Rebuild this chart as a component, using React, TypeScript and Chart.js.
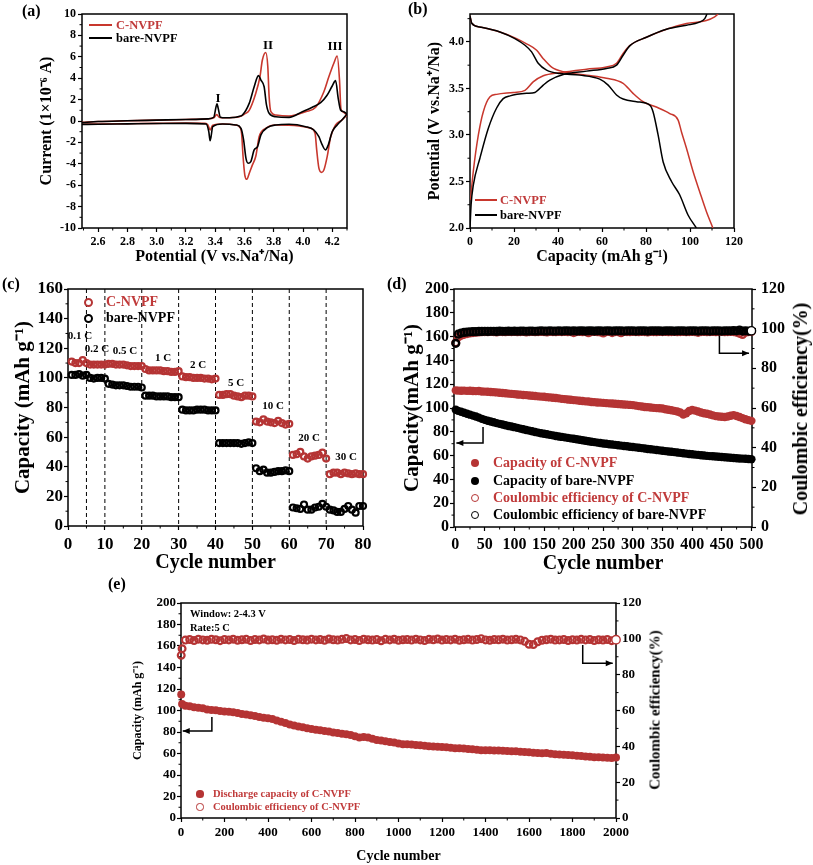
import React, { useEffect, useRef } from 'react';
import { Chart, registerables } from 'chart.js';

Chart.register(...registerables);

const FONT = "'Liberation Serif', 'Times New Roman', Times, serif";
const RED_LINE = '#c8372d';
const RED_MARK = '#b53434';
const RED_TEXT = '#c03a3a';

// ---------------- (a) CV curves ----------------
const cvRedUpV = [2.49, 2.6, 2.8, 3.0, 3.2, 3.35, 3.39, 3.41, 3.43, 3.47, 3.52, 3.564, 3.6, 3.632, 3.677, 3.705, 3.722, 3.745, 3.759, 3.768, 3.78, 3.814, 3.904, 4.018, 4.086, 4.142, 4.176, 4.21, 4.233, 4.249, 4.258, 4.27, 4.3];
const cvRedUpI = [-0.12, -0.05, 0.02, 0.08, 0.14, 0.2, 0.3, 0.6, 0.32, 0.3, 0.32, 0.4, 0.65, 1.0, 2.6, 4.1, 5.7, 6.4, 5.1, 2.3, 0.87, 0.56, 0.47, 0.87, 1.28, 2.74, 4.14, 5.4, 6.07, 3.8, 1.19, 0.87, 0.56];
const cvRedDownV = [2.49, 2.6, 2.8, 3.0, 3.2, 3.33, 3.35, 3.365, 3.383, 3.45, 3.54, 3.564, 3.58, 3.59, 3.602, 3.616, 3.632, 3.654, 3.677, 3.7, 3.745, 3.814, 3.973, 4.052, 4.082, 4.093, 4.108, 4.127, 4.142, 4.165, 4.188, 4.222, 4.265, 4.3];
const cvRedDownI = [-0.3, -0.28, -0.25, -0.22, -0.2, -0.22, -0.37, -0.84, -0.4, -0.28, -0.37, -0.53, -1.15, -3.3, -5.05, -5.45, -4.9, -4.1, -3.3, -1.47, -0.68, -0.37, -0.46, -0.68, -1.15, -2.7, -4.4, -4.8, -4.58, -3.3, -1.5, -0.37, 0.09, 0.56];
const cvBareUpV = [2.49, 2.6, 2.8, 3.0, 3.2, 3.35, 3.39, 3.405, 3.412, 3.42, 3.435, 3.47, 3.52, 3.56, 3.586, 3.632, 3.666, 3.695, 3.712, 3.734, 3.75, 3.768, 3.814, 3.904, 3.995, 4.063, 4.12, 4.165, 4.199, 4.222, 4.24, 4.256, 4.278, 4.3];
const cvBareUpI = [-0.15, -0.05, 0.02, 0.08, 0.14, 0.2, 0.35, 1.3, 1.6, 1.2, 0.35, 0.3, 0.32, 0.42, 0.56, 1.65, 3.2, 4.24, 3.83, 3.2, 1.5, 0.72, 0.4, 0.34, 0.87, 1.28, 1.71, 2.43, 3.27, 3.77, 2.12, 1.03, 0.87, 0.65];
const cvBareDownV = [2.49, 2.6, 2.8, 3.0, 3.2, 3.338, 3.356, 3.365, 3.371, 3.383, 3.45, 3.54, 3.576, 3.594, 3.61, 3.625, 3.643, 3.666, 3.689, 3.712, 3.759, 3.814, 3.904, 4.018, 4.074, 4.108, 4.131, 4.153, 4.172, 4.199, 4.233, 4.27, 4.3];
const cvBareDownI = [-0.32, -0.3, -0.27, -0.24, -0.22, -0.28, -1.0, -1.84, -1.5, -0.53, -0.28, -0.37, -0.68, -1.78, -3.5, -3.95, -3.8, -2.7, -2.4, -1.3, -0.59, -0.37, -0.31, -0.53, -0.84, -1.47, -2.24, -2.7, -2.24, -1.0, -0.37, 0.16, 0.65];

// ---------------- (b) charge / discharge ----------------
const gcRedChargeCap = [0.2, 1.5, 3.8, 6.05, 9.1, 12.1, 19.7, 25, 28.7, 33.3, 40.9, 53, 62, 66.6, 69.6, 72.6, 80.2, 89.3, 98.4, 107.4, 111.2, 112.8];
const gcRedChargeV = [2.3, 2.61, 3.0, 3.25, 3.41, 3.436, 3.457, 3.48, 3.57, 3.636, 3.67, 3.707, 3.73, 3.77, 3.876, 3.96, 4.05, 4.136, 4.197, 4.23, 4.27, 4.3];
const gcBareChargeCap = [0, 0.5, 1.5, 4.5, 8.3, 12.1, 15.1, 18.2, 25.7, 29.5, 33.3, 36.3, 42.4, 53, 62, 66.6, 69.6, 72.6, 80.2, 89.3, 98.4, 104, 106.7, 107.7];
const gcBareChargeV = [2.0, 2.25, 2.46, 2.75, 3.07, 3.29, 3.39, 3.42, 3.447, 3.457, 3.536, 3.59, 3.65, 3.686, 3.715, 3.75, 3.857, 3.957, 4.05, 4.136, 4.18, 4.21, 4.25, 4.3];
const gcRedDisCap = [0, 0.8, 4.5, 13.6, 21.2, 25.7, 30.3, 33.3, 37.1, 42.4, 53, 62, 69.6, 74.1, 78.7, 84.7, 90.8, 94.6, 96.1, 98.4, 101.4, 104.4, 107.4, 110.4];
const gcRedDisV = [4.28, 4.2, 4.16, 4.107, 4.036, 3.98, 3.91, 3.82, 3.73, 3.68, 3.643, 3.61, 3.555, 3.447, 3.357, 3.3, 3.23, 3.16, 3.035, 2.857, 2.607, 2.39, 2.18, 2.0];
const gcBareDisCap = [0, 0.8, 4.5, 13.6, 20.4, 25, 28, 31, 34.8, 40.9, 49.9, 59, 62.8, 66.6, 69.6, 75.7, 81.7, 83.2, 85.5, 87.8, 91.6, 95.3, 99.1, 102.9];
const gcBareDisV = [4.28, 4.2, 4.16, 4.107, 4.036, 3.964, 3.893, 3.77, 3.697, 3.66, 3.643, 3.6, 3.536, 3.43, 3.386, 3.357, 3.32, 3.25, 3.0, 2.71, 2.5, 2.357, 2.14, 2.0];

// ---------------- (c) rate capability ----------------
const rateRed = [111, 110, 110, 112, 110, 109, 109, 109, 109, 109,
  109.5, 109.5, 109, 109, 109, 108.5, 108, 108, 108, 108,
  106, 105, 105, 105, 105, 104.5, 104.5, 104, 104, 104.5,
  101, 100.5, 100.5, 100, 100, 100, 99.5, 99.5, 99, 99.5,
  88.5, 88.5, 89, 89, 88, 87.5, 87, 88, 88, 87.5,
  70.5, 70, 72, 70.5, 70, 69.5, 71, 69.5, 68.5, 69,
  48, 48.5, 50, 47, 45.5, 47, 47.5, 48, 49.5, 45.5,
  35, 36, 36, 35, 36, 35.5, 35, 35.5, 35, 35];
const rateBare = [102, 102, 102.5, 101.5, 102, 100, 99.5, 100, 100, 99.5,
  96, 95.5, 95, 95, 95, 94.5, 94, 94, 94, 93.5,
  88, 88, 88, 87.5, 87.5, 87.5, 87.5, 87, 87, 87,
  78.5, 78, 78, 78, 78.5, 78.5, 78.5, 78, 78, 78,
  56, 56, 56, 56, 56, 56, 55.5, 56, 56.5, 56,
  39, 37, 38, 36, 36, 36.5, 37, 37, 37.5, 37,
  12.5, 12, 11.5, 14.5, 11, 11, 12.5, 13, 15, 13,
  11, 10.5, 9.5, 9.5, 11.5, 13.5, 11, 9, 13.5, 13.5];
const rateBoundaries = [5, 10, 20, 30, 40, 50, 60, 70];
const rateLabels = [
  { t: '0.1 C', x: 80, y: 335 }, { t: '0.2 C', x: 97, y: 348 }, { t: '0.5 C', x: 125, y: 350 },
  { t: '1 C', x: 163, y: 357 }, { t: '2 C', x: 198, y: 364 }, { t: '5 C', x: 236, y: 382 },
  { t: '10 C', x: 273, y: 405 }, { t: '20 C', x: 309, y: 437 }, { t: '30 C', x: 346, y: 456 },
];

// ---------------- (d) 500 cycles at 5 C (every 5 cycles) ----------------
const dCycleStep = 5;
const dCapRed = [114.8, 114.6, 114.5, 114.6, 114.4, 114.5, 114.3, 114.2, 114.3, 113.9,
  113.8, 113.6, 113.5, 113.3, 113.1, 112.8, 112.6, 112.4, 112.1, 111.9,
  111.7, 111.4, 111.2, 110.9, 110.8, 110.5, 110.3, 110.1, 109.8, 109.6,
  109.4, 109.1, 108.9, 108.6, 108.4, 108.1, 107.7, 107.5, 107.2, 106.9,
  106.6, 106.4, 106.1, 105.9, 105.6, 105.4, 105.1, 104.9, 104.6, 104.5,
  104.3, 104.1, 103.9, 103.8, 103.6, 103.4, 103.2, 103.0, 102.8, 102.6,
  102.4, 102.0, 101.6, 101.2, 100.9, 100.7, 100.4, 100.1, 99.9, 99.8,
  99.6, 99.0, 98.5, 98.1, 97.6, 97.0, 96.2, 94.6, 95.5, 97.5,
  98.3, 97.8, 97.0, 96.2, 95.6, 95.2, 94.5, 93.8, 93.2, 92.9,
  92.6, 92.4, 92.8, 93.5, 94.0, 93.3, 92.5, 91.5, 90.6, 89.8,
  89.2];
const dCapBare = [98.5, 97.6, 96.8, 96.0, 95.2, 94.4, 93.6, 92.8, 91.9, 90.9,
  90.0, 89.3, 88.6, 88.0, 87.3, 86.7, 86.1, 85.5, 84.9, 84.4,
  83.9, 83.3, 82.7, 82.1, 81.5, 81.0, 80.4, 79.8, 79.3, 78.8,
  78.4, 77.9, 77.4, 77.0, 76.5, 76.1, 75.7, 75.3, 74.9, 74.5,
  74.1, 73.7, 73.3, 72.9, 72.5, 72.1, 71.7, 71.3, 70.9, 70.6,
  70.2, 69.9, 69.6, 69.3, 69.0, 68.7, 68.4, 68.1, 67.8, 67.5,
  67.2, 66.9, 66.6, 66.3, 66.0, 65.6, 65.3, 65.0, 64.7, 64.4,
  64.1, 63.8, 63.5, 63.2, 62.9, 62.6, 62.3, 62.0, 61.7, 61.4,
  61.1, 60.8, 60.6, 60.3, 60.1, 59.8, 59.6, 59.4, 59.2, 59.0,
  58.8, 58.6, 58.4, 58.2, 58.0, 57.8, 57.6, 57.5, 57.3, 57.2,
  57.0];
const dCeRed = [92.9, 95.8, 96.6, 97.1, 97.5, 97.8, 98.0, 98.2, 98.3, 98.4,
  98.5, 98.4, 98.6, 98.5, 98.3, 98.6, 98.5, 98.4, 98.6, 98.5,
  98.6, 98.4, 98.5, 98.6, 98.3, 98.5, 98.6, 98.4, 98.5, 98.6,
  98.5, 98.3, 98.6, 98.5, 98.4, 98.6, 98.5, 98.6, 98.4, 98.5,
  98.0, 98.5, 98.6, 98.4, 98.5, 97.9, 98.5, 98.6, 98.4, 98.3,
  97.8, 98.5, 98.6, 98.0, 98.5, 98.4, 97.9, 98.6, 98.5, 98.4,
  98.6, 98.5, 98.4, 98.6, 98.5, 98.3, 98.6, 98.5, 98.4, 98.6,
  98.5, 98.6, 98.4, 98.5, 98.6, 98.4, 98.5, 98.6, 98.4, 98.5,
  98.6, 98.4, 98.1, 98.5, 98.6, 98.4, 98.5, 98.6, 98.4, 98.5,
  98.6, 98.4, 98.5, 98.6, 98.5, 98.2, 97.6, 97.0, 98.2, 98.5,
  98.6];
const dCeBare = [92.6, 97.2, 97.8, 98.1, 98.3, 98.4, 98.5, 98.5, 98.6, 98.6,
  98.7, 98.6, 98.7, 98.7, 98.6, 98.8, 98.7, 98.7, 98.8, 98.7,
  98.8, 98.7, 98.8, 98.8, 98.7, 98.8, 98.8, 98.7, 98.8, 98.9,
  98.8, 98.8, 98.9, 98.8, 98.8, 98.9, 98.8, 98.9, 98.9, 98.8,
  98.9, 98.8, 98.9, 98.9, 98.8, 98.9, 98.9, 98.8, 98.9, 98.9,
  98.8, 98.9, 98.9, 98.8, 98.9, 98.9, 98.9, 98.8, 98.9, 98.9,
  98.9, 98.8, 98.9, 98.9, 98.9, 98.8, 98.9, 98.9, 98.9, 98.9,
  98.8, 98.9, 98.9, 98.9, 98.8, 98.9, 98.9, 98.9, 98.8, 98.9,
  98.9, 98.9, 98.8, 98.9, 98.9, 98.9, 98.8, 98.9, 98.9, 98.9,
  98.8, 98.9, 98.9, 98.9, 99.0, 98.9, 99.3, 98.8, 98.9, 98.8,
  98.9];

// ---------------- (e) 2000 cycles ----------------
const eCyclesHead = [1, 5];
const eCycleStep = 20;
const eCap = [115, 106,
  104.5, 104.0, 103.0, 102.5, 102.0, 101.0, 100.5, 100.3, 99.6, 99.0,
  98.8, 98.4, 97.6, 96.8, 96.2, 95.6, 94.8, 94.0, 93.3, 92.7,
  92.0, 90.8, 89.6, 88.3, 87.0, 86.0, 85.2, 84.4, 83.6, 82.8,
  82.2, 81.6, 81.0, 80.4, 79.6, 79.0, 78.4, 78.0, 77.2, 76.0,
  75.0, 75.4, 74.8, 73.8, 72.6, 72.0, 71.4, 70.8, 70.2, 69.4,
  68.7, 68.6, 68.4, 68.0, 67.6, 67.2, 66.8, 66.5, 66.3, 66.1,
  65.7, 65.3, 65.0, 64.8, 64.6, 64.3, 64.0, 63.5, 63.1, 63.0,
  63.0, 62.9, 62.7, 62.5, 62.4, 62.2, 62.0, 61.6, 61.4, 61.2,
  60.8, 60.4, 60.2, 60.4, 59.8, 59.3, 59.0, 58.8, 58.6, 58.4,
  58.0, 57.6, 57.2, 56.9, 56.6, 56.4, 56.2, 56.0, 55.9, 56.2];
const eCe = [90.8, 94.5,
  99.3, 99.6, 99.1, 99.8, 99.4, 99.2, 99.7, 99.5, 99.0, 99.6,
  99.4, 99.8, 99.2, 99.5, 99.7, 99.1, 99.6, 99.4, 99.9, 99.3,
  99.5, 99.2, 99.8, 99.4, 99.6, 99.1, 99.7, 99.5, 99.3, 99.8,
  99.4, 99.6, 99.2, 99.9, 99.5, 99.3, 99.7, 100.2, 99.4, 99.6,
  99.1, 99.8, 99.5, 99.3, 99.6, 98.9, 99.7, 99.4, 99.8, 99.2,
  99.5, 99.6, 99.3, 99.8, 99.4, 99.1, 99.7, 99.5, 99.9, 99.3,
  99.6, 99.4, 99.8, 99.2, 99.5, 99.7, 99.3, 99.6, 100.1, 99.4,
  99.2, 99.6, 99.5, 99.8, 99.3, 99.5, 99.7, 99.4, 98.6, 97.0,
  96.8, 98.4, 99.2, 99.5, 99.8, 99.3, 99.4, 99.6, 99.1, 99.5,
  99.3, 99.7, 99.4, 99.6, 99.1, 99.5, 99.3, 99.6, 99.0, 99.5];

// ---------------- helpers ----------------
const pts = (xs: number[], ys: number[]) => xs.map((x, i) => ({ x, y: ys[i] }));
const dCycles = dCapRed.map((_, i) => (i === 0 ? 1 : i * dCycleStep));
const eCycles = [...eCyclesHead, ...eCap.slice(eCyclesHead.length).map((_, i) => (i + 1) * eCycleStep)];
const rateCycles = rateRed.map((_, i) => i + 1);

function axis(o: any) {
  return {
    type: 'linear',
    position: o.pos,
    min: o.min,
    max: o.max,
    afterFit: (s: any) => {
      if (o.pos === 'bottom') s.height = o.size;
      else s.width = o.size;
    },
    border: { display: false },
    grid: { display: true, drawOnChartArea: false, drawTicks: true, tickLength: o.tl ?? 4, tickWidth: 1.2, tickColor: '#000' },
    ticks: {
      stepSize: o.step,
      includeBounds: false,
      autoSkip: false,
      maxRotation: 0,
      minRotation: 0,
      padding: o.pad ?? 3,
      color: '#000',
      font: { family: FONT, size: o.font, weight: 'bold' },
      callback: (v: any) => (o.fmt ? o.fmt(Number(v)) : String(Math.round(Number(v)))),
    },
    title: o.title
      ? { display: true, text: o.title, color: '#000', font: { family: FONT, size: o.titleSize, weight: 'bold' }, padding: o.titlePad ?? { top: 4, bottom: 4 } }
      : { display: false },
  };
}

const framePlugin = {
  id: 'frame',
  beforeDatasetsDraw(chart: any) {
    const { ctx, chartArea: a } = chart;
    ctx.save();
    ctx.strokeStyle = '#000';
    ctx.lineWidth = 1.5;
    ctx.strokeRect(a.left, a.top, a.right - a.left, a.bottom - a.top);
    ctx.restore();
  },
};

const minorPlugin = {
  id: 'minor',
  beforeDatasetsDraw(chart: any, _args: any, opts: any) {
    const steps = (opts && opts.steps) || {};
    const len = (opts && opts.len) || 2.5;
    const { ctx, chartArea: a } = chart;
    ctx.save();
    ctx.strokeStyle = '#000';
    ctx.lineWidth = 1;
    Object.keys(steps).forEach((id) => {
      const s = chart.scales[id];
      if (!s) return;
      const step = steps[id];
      const majors = s.ticks.map((t: any) => t.value);
      const k0 = Math.ceil(s.min / step - 1e-6);
      const k1 = Math.floor(s.max / step + 1e-6);
      for (let k = k0; k <= k1; k++) {
        const v = k * step;
        if (majors.some((m: number) => Math.abs(m - v) < step * 0.01)) continue;
        const p = s.getPixelForValue(v);
        ctx.beginPath();
        if (s.axis === 'x') {
          ctx.moveTo(p, a.bottom);
          ctx.lineTo(p, a.bottom + len);
        } else if (s.position === 'left') {
          ctx.moveTo(a.left, p);
          ctx.lineTo(a.left - len, p);
        } else {
          ctx.moveTo(a.right, p);
          ctx.lineTo(a.right + len, p);
        }
        ctx.stroke();
      }
    });
    ctx.restore();
  },
};

const vlinePlugin = {
  id: 'vlines',
  beforeDatasetsDraw(chart: any, _args: any, opts: any) {
    const vals = (opts && opts.values) || [];
    if (!vals.length) return;
    const { ctx, chartArea: a } = chart;
    const xs = chart.scales.x;
    ctx.save();
    ctx.strokeStyle = '#000';
    ctx.lineWidth = 1;
    ctx.setLineDash([4, 3]);
    vals.forEach((v: number) => {
      const p = xs.getPixelForValue(v);
      ctx.beginPath();
      ctx.moveTo(p, a.top);
      ctx.lineTo(p, a.bottom);
      ctx.stroke();
    });
    ctx.restore();
  },
};

const arrowPlugin = {
  id: 'arrows',
  afterDatasetsDraw(chart: any, _args: any, opts: any) {
    const list = (opts && opts.list) || [];
    const { ctx } = chart;
    ctx.save();
    ctx.strokeStyle = '#000';
    ctx.fillStyle = '#000';
    ctx.lineWidth = 1.5;
    list.forEach((ar: any) => {
      const xs = chart.scales.x;
      const ys = chart.scales[ar.axis || 'y'];
      const p = ar.pts.map((q: number[]) => [xs.getPixelForValue(q[0]), ys.getPixelForValue(q[1])]);
      ctx.beginPath();
      ctx.moveTo(p[0][0], p[0][1]);
      for (let i = 1; i < p.length; i++) ctx.lineTo(p[i][0], p[i][1]);
      ctx.stroke();
      const [x1, y1] = p[p.length - 2];
      const [x2, y2] = p[p.length - 1];
      const ang = Math.atan2(y2 - y1, x2 - x1);
      const L = 7, W = 3;
      ctx.beginPath();
      ctx.moveTo(x2, y2);
      ctx.lineTo(x2 - L * Math.cos(ang) + W * Math.sin(ang), y2 - L * Math.sin(ang) - W * Math.cos(ang));
      ctx.lineTo(x2 - L * Math.cos(ang) - W * Math.sin(ang), y2 - L * Math.sin(ang) + W * Math.cos(ang));
      ctx.closePath();
      ctx.fill();
    });
    ctx.restore();
  },
};

const PLUGINS = [framePlugin, minorPlugin, vlinePlugin, arrowPlugin];

function baseOptions(padding: any, scales: any, extra: any) {
  return {
    responsive: false,
    maintainAspectRatio: false,
    animation: false,
    events: [],
    layout: { padding },
    plugins: { legend: { display: false }, tooltip: { enabled: false }, ...extra },
    scales,
  };
}

const lineDs = (data: any, color: string, order: number, width = 1.6) => ({
  type: 'line',
  data,
  borderColor: color,
  borderWidth: width,
  pointRadius: 0,
  fill: false,
  cubicInterpolationMode: 'monotone',
  order,
});

// ---------------- chart configs ----------------
const configA = () => ({
  type: 'line',
  data: {
    datasets: [
      lineDs(pts(cvBareUpV, cvBareUpI), '#000', 0),
      lineDs(pts(cvBareDownV, cvBareDownI), '#000', 0),
      lineDs(pts(cvRedUpV, cvRedUpI), RED_LINE, 1),
      lineDs(pts(cvRedDownV, cvRedDownI), RED_LINE, 1),
    ],
  },
  options: baseOptions(
    { left: 33, top: 14, right: 53, bottom: 0 },
    {
      x: axis({ pos: 'bottom', min: 2.49, max: 4.3, step: 0.2, size: 40, font: 12, fmt: (v: number) => v.toFixed(1), title: 'Potential (V vs.Na\u207A/Na)', titleSize: 16, titlePad: { top: 2, bottom: 2 } }),
      y: axis({ pos: 'left', min: -10, max: 10, step: 2, size: 49, font: 12, pad: 2, title: 'Current (1\u00D710\u207B\u2076 A)', titleSize: 16 }),
    },
    { minor: { steps: { x: 0.1, y: 1 }, len: 2.5 } },
  ),
});

const configB = () => ({
  type: 'line',
  data: {
    datasets: [
      lineDs(pts(gcBareChargeCap, gcBareChargeV), '#000', 0, 1.5),
      lineDs(pts(gcBareDisCap, gcBareDisV), '#000', 0, 1.5),
      lineDs(pts(gcRedChargeCap, gcRedChargeV), RED_LINE, 1, 1.5),
      lineDs(pts(gcRedDisCap, gcRedDisV), RED_LINE, 1, 1.5),
    ],
  },
  options: baseOptions(
    { left: 21, top: 14, right: 79, bottom: 0 },
    {
      x: axis({ pos: 'bottom', min: 0, max: 120, step: 20, size: 40, font: 12, title: 'Capacity (mAh g\u207B\u00B9)', titleSize: 16, titlePad: { top: 2, bottom: 2 } }),
      y: axis({ pos: 'left', min: 2.0, max: 4.3, step: 0.5, size: 49, font: 12, pad: 2, fmt: (v: number) => v.toFixed(1), title: 'Potential (V vs.Na\u207A/Na)', titleSize: 16 }),
    },
    { minor: { steps: { x: 10, y: 0.25 }, len: 2.5 } },
  ),
});

// open circles; the last point of a series is white-filled (as in the source figure)
const ringDs = (data: any, color: string, order: number, r = 3, bw = 2, whiteLast = false) => ({
  type: 'scatter',
  data,
  borderColor: color,
  backgroundColor: (ctx: any) => (whiteLast && ctx.dataIndex === data.length - 1 ? '#fff' : 'rgba(255,255,255,0)'),
  borderWidth: (ctx: any) => (whiteLast && ctx.dataIndex === data.length - 1 ? 1.4 : bw),
  pointRadius: (ctx: any) => (whiteLast && ctx.dataIndex === data.length - 1 ? 4.2 : r),
  showLine: false,
  clip: false,
  order,
});
const dotDs = (data: any, color: string, order: number, r = 3.6, axisId = 'y') => ({
  type: 'scatter',
  data,
  borderColor: color,
  backgroundColor: color,
  borderWidth: 0,
  pointRadius: r,
  showLine: false,
  clip: false,
  yAxisID: axisId,
  order,
});

const configC = () => ({
  type: 'scatter',
  data: {
    datasets: [
      ringDs(pts(rateCycles, rateBare), '#000', 1, 3, 2.2),
      ringDs(pts(rateCycles, rateRed), RED_MARK, 0, 3, 2.2),
    ],
  },
  options: baseOptions(
    { left: 8, top: 19, right: 37, bottom: 1 },
    {
      x: axis({ pos: 'bottom', min: 0, max: 80, step: 10, size: 53, font: 17, pad: 4, title: 'Cycle number', titleSize: 20 }),
      y: axis({ pos: 'left', min: 0, max: 160, step: 20, size: 60, font: 17, pad: 1, title: 'Capacity (mAh g\u207B\u00B9)', titleSize: 21, titlePad: { top: 3, bottom: 3 } }),
    },
    { minor: { steps: { x: 5, y: 10 }, len: 2.5 }, vlines: { values: rateBoundaries } },
  ),
});

const configD = () => ({
  type: 'scatter',
  data: {
    datasets: [
      { ...ringDs(pts(dCycles, dCeBare), '#000', 0, 3.4, 2.4, true), yAxisID: 'y2' },
      { ...ringDs(pts(dCycles, dCeRed), RED_MARK, 1, 3.4, 2.2), yAxisID: 'y2' },
      dotDs(pts(dCycles, dCapRed), RED_MARK, 2, 4.2),
      dotDs(pts(dCycles, dCapBare), '#000', 2, 4.2),
    ],
  },
  options: baseOptions(
    { left: 8, top: 19, right: 0, bottom: 0 },
    {
      x: axis({ pos: 'bottom', min: -2, max: 501, step: 50, size: 53, font: 16, pad: 4, title: 'Cycle number', titleSize: 20 }),
      y: axis({ pos: 'left', min: 0, max: 200, step: 20, size: 56, font: 16, pad: 1, title: 'Capacity(mAh g\u207B\u00B9)', titleSize: 21, titlePad: { top: 2, bottom: 2 } }),
      y2: axis({ pos: 'right', min: 0, max: 120, step: 20, size: 61, font: 16, pad: 5 }),
    },
    {
      minor: { steps: { x: 25, y: 10, y2: 10 }, len: 2.5 },
      arrows: {
        list: [
          { axis: 'y', pts: [[47, 84], [47, 70.5], [2, 70.5]] },
          { axis: 'y', pts: [[446, 161], [446, 146], [496, 146]] },
        ],
      },
    },
  ),
});

const configE = () => ({
  type: 'scatter',
  data: {
    datasets: [
      { ...ringDs(pts(eCycles, eCe), RED_MARK, 0, 3.4, 2.2, true), yAxisID: 'y2' },
      dotDs(pts(eCycles, eCap), RED_MARK, 1, 4),
    ],
  },
  options: baseOptions(
    { left: 27, top: 18, right: 157, bottom: 0 },
    {
      x: axis({ pos: 'bottom', min: 0, max: 2000, step: 200, size: 47, font: 13, pad: 3, title: 'Cycle number', titleSize: 14, titlePad: { top: 2, bottom: 0 } }),
      y: axis({ pos: 'left', min: 0, max: 200, step: 20, size: 54, font: 13, pad: 1, title: 'Capacity (mAh g\u207B\u00B9)', titleSize: 12 }),
      y2: axis({ pos: 'right', min: 0, max: 120, step: 20, size: 40, font: 13, pad: 2 }),
    },
    {
      minor: { steps: { x: 100, y: 10, y2: 10 }, len: 2.5 },
      arrows: {
        list: [
          { axis: 'y', pts: [[142, 94], [142, 81], [8, 81]] },
          { axis: 'y', pts: [[1847, 161], [1847, 144], [1985, 144]] },
        ],
      },
    },
  ),
});

// ---------------- components ----------------
function ChartBox({ x, y, w, h, make }: any) {
  const ref = useRef<HTMLCanvasElement>(null);
  useEffect(() => {
    const cfg: any = make();
    cfg.plugins = PLUGINS;
    const chart = new Chart(ref.current as HTMLCanvasElement, cfg);
    return () => chart.destroy();
  }, []);
  return <canvas ref={ref} width={w} height={h} style={{ position: 'absolute', left: x, top: y, width: w, height: h }} />;
}

function T({ x, y, s, c = '#000', center = false, rot = false, children }: any) {
  const tr = rot ? 'translate(-50%, -50%) rotate(-90deg)' : center ? 'translate(-50%, -50%)' : 'translate(0, -50%)';
  return (
    <div style={{ position: 'absolute', left: x, top: y, transform: tr, fontFamily: FONT, fontWeight: 'bold', fontSize: s, color: c, whiteSpace: 'nowrap', lineHeight: 1 }}>
      {children}
    </div>
  );
}

function LineKey({ x, y, w, c }: any) {
  return <div style={{ position: 'absolute', left: x, top: y - 1, width: w, height: 2, background: c }} />;
}

function Dot({ x, y, r, c, hollow = false, bw = 1.5 }: any) {
  return (
    <div
      style={{
        position: 'absolute',
        left: x - r,
        top: y - r,
        width: r * 2,
        height: r * 2,
        borderRadius: '50%',
        boxSizing: 'border-box',
        background: hollow ? '#fff' : c,
        border: hollow ? `${bw}px solid ${c}` : 'none',
      }}
    />
  );
}

export default function App() {
  return (
    <div style={{ position: 'absolute', left: 0, top: 0, width: 813, height: 865, background: '#fff', overflow: 'hidden' }}>
      <ChartBox x={0} y={0} w={400} h={268} make={configA} />
      <ChartBox x={400} y={0} w={413} h={268} make={configB} />
      <ChartBox x={0} y={270} w={400} h={310} make={configC} />
      <ChartBox x={390} y={270} w={423} h={310} make={configD} />
      <ChartBox x={100} y={585} w={713} h={280} make={configE} />

      {/* (a) */}
      <T x={22} y={11} s={16}>(a)</T>
      <T x={218} y={97} s={13} center>I</T>
      <T x={268} y={44} s={13} center>II</T>
      <T x={335} y={45} s={13} center>III</T>
      <LineKey x={89} y={25} w={23} c={RED_LINE} />
      <T x={116} y={25} s={12.5} c={RED_TEXT}>C-NVPF</T>
      <LineKey x={89} y={38} w={23} c="#000" />
      <T x={116} y={38} s={12.5}>bare-NVPF</T>

      {/* (b) */}
      <T x={408} y={9} s={16}>(b)</T>
      <LineKey x={475} y={200} w={22} c={RED_LINE} />
      <T x={500} y={200} s={12.5} c={RED_TEXT}>C-NVPF</T>
      <LineKey x={475} y={215} w={22} c="#000" />
      <T x={500} y={215} s={12.5}>bare-NVPF</T>

      {/* (c) */}
      <T x={2} y={284} s={16}>(c)</T>
      <Dot x={88} y={302} r={4.5} c={RED_MARK} hollow bw={2.2} />
      <T x={106} y={302} s={14} c={RED_TEXT}>C-NVPF</T>
      <Dot x={88} y={318} r={4.5} c="#000" hollow bw={2.2} />
      <T x={106} y={318} s={14}>bare-NVPF</T>
      {rateLabels.map((r) => (
        <T key={r.t} x={r.x} y={r.y} s={11} center>{r.t}</T>
      ))}

      {/* (d) */}
      <T x={387} y={284} s={16}>(d)</T>
      <T x={800} y={409} s={20} rot>Coulombic efficiency(%)</T>
      <Dot x={475} y={463} r={4.2} c={RED_MARK} />
      <T x={493} y={463} s={14} c={RED_TEXT}>Capacity of C-NVPF</T>
      <Dot x={475} y={481} r={4.2} c="#000" />
      <T x={493} y={481} s={14}>Capacity of bare-NVPF</T>
      <Dot x={475} y={498} r={4.2} c={RED_MARK} hollow />
      <T x={493} y={498} s={14} c={RED_TEXT}>Coulombic efficiency of C-NVPF</T>
      <Dot x={475} y={515} r={4.2} c="#000" hollow />
      <T x={493} y={515} s={14}>Coulombic efficiency of bare-NVPF</T>

      {/* (e) */}
      <T x={108} y={584} s={16}>(e)</T>
      <T x={190} y={614} s={10.5}>Window: 2-4.3 V</T>
      <T x={190} y={628} s={10.5}>Rate:5 C</T>
      <T x={655} y={710} s={15} rot>Coulombic efficiency(%)</T>
      <Dot x={200} y={794} r={3.6} c={RED_MARK} />
      <T x={213} y={794} s={10.5} c={RED_TEXT}>Discharge capacity of C-NVPF</T>
      <Dot x={200} y={807} r={3.6} c={RED_MARK} hollow bw={1.2} />
      <T x={213} y={807} s={10.5} c={RED_TEXT}>Coulombic efficiency of C-NVPF</T>
    </div>
  );
}
